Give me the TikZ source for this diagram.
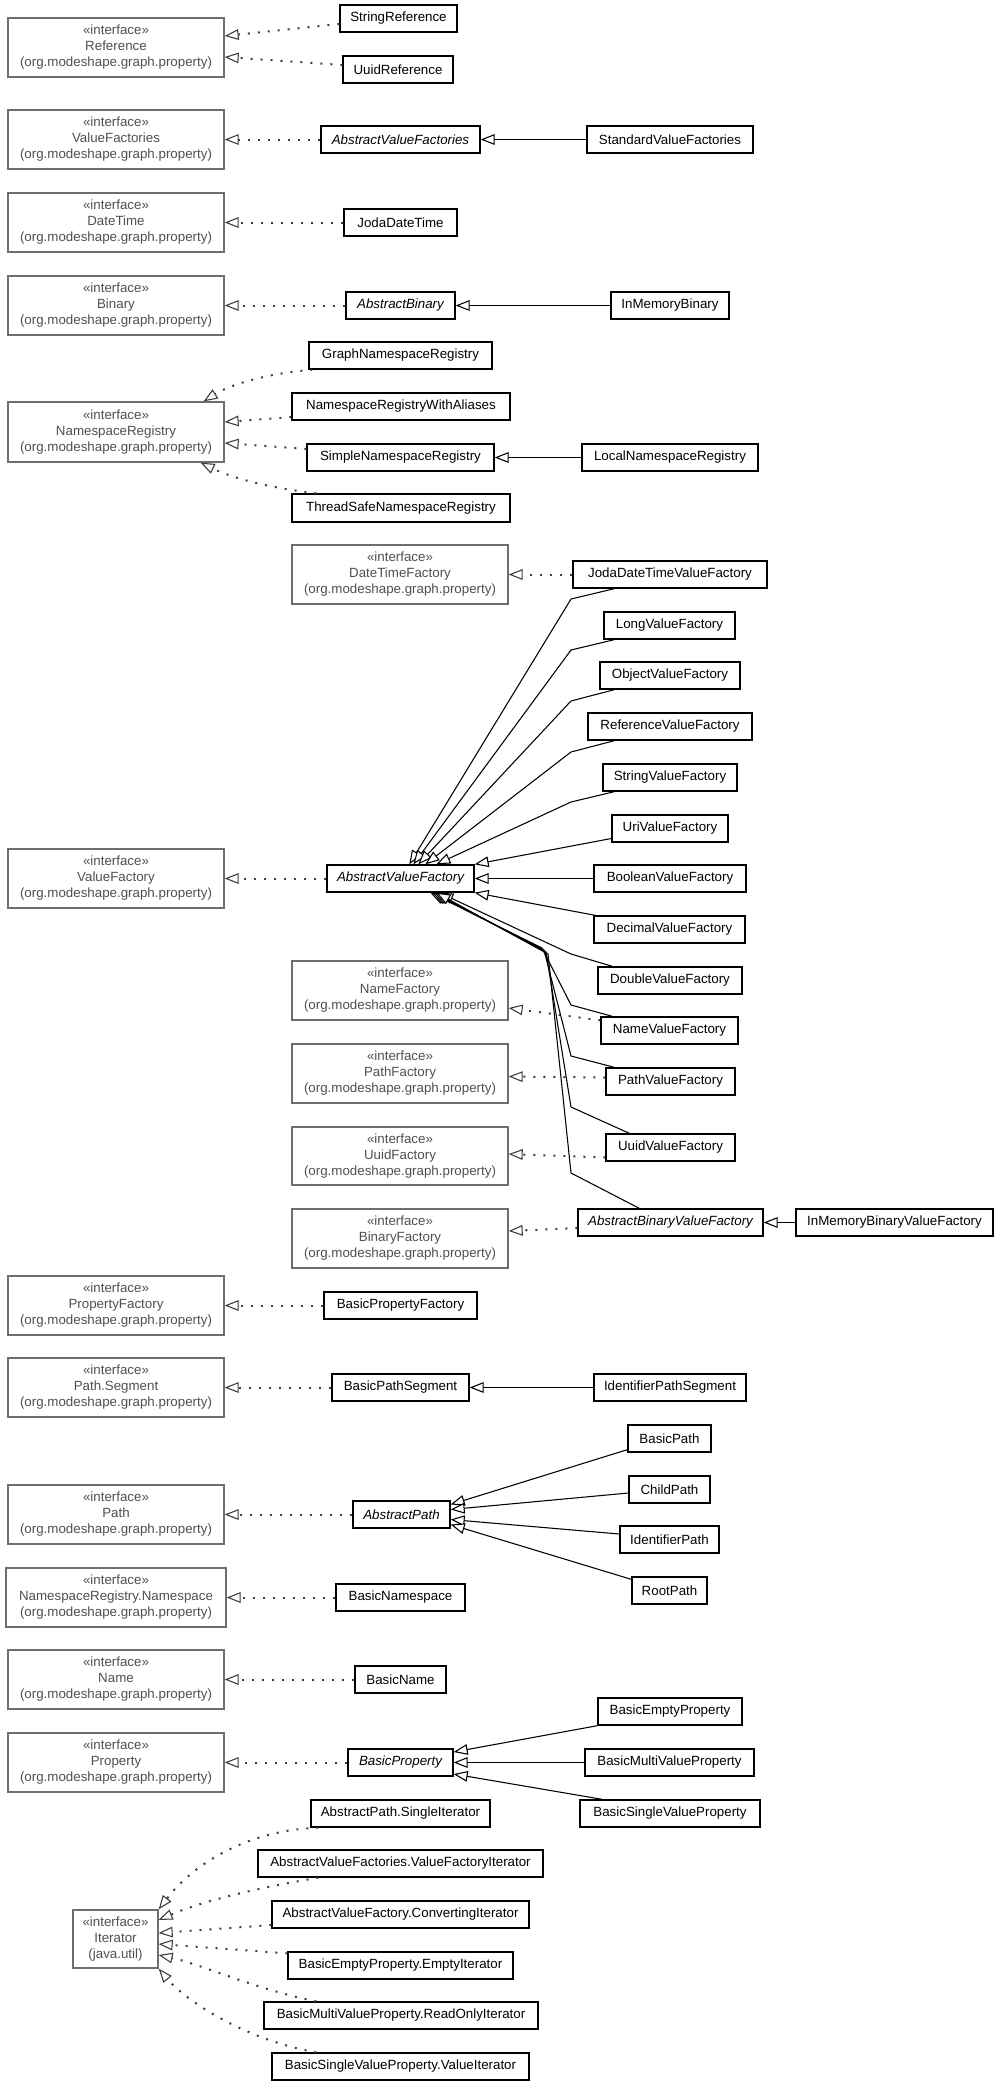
\documentclass[tikz,border=0pt]{standalone}
\usepackage{fontspec}
\setmainfont{Liberation Sans}
\usetikzlibrary{arrows.meta,calc}
\definecolor{ifcline}{RGB}{110,110,110}
\definecolor{ifctext}{RGB}{80,80,80}
\definecolor{dotline}{RGB}{60,60,60}
% #1 style, #2 name, #3 x1, #4 y1, #5 x2, #6 y2, #7 text  (pixel coordinates, y downwards)
\newcommand\ubox[7][]{%
  \node[#1, minimum width={(#5-#3)*0.75pt}, minimum height={(#6-#4)*0.75pt}] (#2) at ({(#3+#5)/2},{(#4+#6)/2}) {#7};}
\begin{document}
\begin{tikzpicture}[x=0.75pt,y=-0.75pt,
  cls/.style={draw=black, line width=1pt, fill=white, inner sep=0pt, text=black, font=\fontsize{10pt}{12pt}\selectfont},
  abs/.style={cls, font=\fontsize{10pt}{12pt}\selectfont\itshape},
  ifc/.style={draw=ifcline, line width=1pt, fill=white, inner sep=0pt, align=center, text=ifctext, font=\fontsize{10pt}{12pt}\selectfont},
  real/.style={draw=dotline, line width=1.5pt, dash pattern=on 1.5pt off 6pt, -{Triangle[open,length=10.5pt,width=8pt,line width=0.8pt,fill=white]}},
  gen/.style={draw=black, line width=0.8pt, -{Triangle[open,length=10.5pt,width=8pt,line width=0.8pt,fill=white]}}]
\useasboundingbox (0,0) rectangle (995,2085);

% ---------- nodes ----------
\ubox[ifc]{refI}{8}{18}{224}{77}{«interface»\\Reference\\(org.modeshape.graph.property)}
\ubox[cls]{stringRef}{340}{5}{457}{32}{StringReference}
\ubox[cls]{uuidRef}{343}{56}{453}{83}{UuidReference}
\ubox[ifc]{vfsI}{8}{110}{224}{169}{«interface»\\ValueFactories\\(org.modeshape.graph.property)}
\ubox[abs]{avfs}{321}{126}{480}{153}{AbstractValueFactories}
\ubox[cls]{svfs}{587}{126}{753}{153}{StandardValueFactories}
\ubox[ifc]{dtI}{8}{193}{224}{252}{«interface»\\DateTime\\(org.modeshape.graph.property)}
\ubox[cls]{jodaDT}{344}{209}{457}{236}{JodaDateTime}
\ubox[ifc]{binI}{8}{276}{224}{335}{«interface»\\Binary\\(org.modeshape.graph.property)}
\ubox[abs]{absBin}{346}{292}{455}{319}{AbstractBinary}
\ubox[cls]{inMemBin}{611}{292}{729}{319}{InMemoryBinary}
\ubox[cls]{graphNS}{309}{342}{492}{369}{GraphNamespaceRegistry}
\ubox[ifc]{nsrI}{8}{402}{224}{462}{«interface»\\NamespaceRegistry\\(org.modeshape.graph.property)}
\ubox[cls]{nsrwa}{292}{393}{510}{420}{NamespaceRegistryWithAliases}
\ubox[cls]{simpleNS}{307}{444}{494}{471}{SimpleNamespaceRegistry}
\ubox[cls]{localNS}{582}{444}{758}{471}{LocalNamespaceRegistry}
\ubox[cls]{threadNS}{292}{494}{510}{522}{ThreadSafeNamespaceRegistry}
\ubox[ifc]{dtfI}{292}{545}{508}{604}{«interface»\\DateTimeFactory\\(org.modeshape.graph.property)}
\ubox[cls]{jodaVF}{573}{561}{767}{588}{JodaDateTimeValueFactory}
\ubox[cls]{longVF}{604}{612}{735}{639}{LongValueFactory}
\ubox[cls]{objVF}{600}{662}{740}{689}{ObjectValueFactory}
\ubox[cls]{refVF}{588}{713}{752}{740}{ReferenceValueFactory}
\ubox[cls]{strVF}{603}{764}{737}{791}{StringValueFactory}
\ubox[cls]{uriVF}{612}{815}{728}{842}{UriValueFactory}
\ubox[ifc]{vfI}{8}{849}{224}{908}{«interface»\\ValueFactory\\(org.modeshape.graph.property)}
\ubox[abs]{avf}{327}{865}{474}{892}{AbstractValueFactory}
\ubox[cls]{boolVF}{594}{865}{746}{892}{BooleanValueFactory}
\ubox[cls]{decVF}{594}{916}{745}{943}{DecimalValueFactory}
\ubox[cls]{dblVF}{598}{967}{742}{994}{DoubleValueFactory}
\ubox[ifc]{nfI}{292}{961}{508}{1020}{«interface»\\NameFactory\\(org.modeshape.graph.property)}
\ubox[cls]{nameVF}{601}{1017}{738}{1044}{NameValueFactory}
\ubox[ifc]{pfI}{292}{1044}{508}{1103}{«interface»\\PathFactory\\(org.modeshape.graph.property)}
\ubox[cls]{pathVF}{606}{1068}{735}{1095}{PathValueFactory}
\ubox[ifc]{ufI}{292}{1127}{508}{1185}{«interface»\\UuidFactory\\(org.modeshape.graph.property)}
\ubox[cls]{uuidVF}{606}{1134}{735}{1161}{UuidValueFactory}
\ubox[ifc]{bfI}{292}{1209}{508}{1268}{«interface»\\BinaryFactory\\(org.modeshape.graph.property)}
\ubox[abs]{absBinVF}{578}{1209}{763}{1236}{AbstractBinaryValueFactory}
\ubox[cls]{inMemBinVF}{796}{1209}{993}{1236}{InMemoryBinaryValueFactory}
\ubox[ifc]{propfI}{8}{1276}{224}{1335}{«interface»\\PropertyFactory\\(org.modeshape.graph.property)}
\ubox[cls]{basicPropF}{324}{1292}{477}{1319}{BasicPropertyFactory}
\ubox[ifc]{psegI}{8}{1358}{224}{1417}{«interface»\\Path.Segment\\(org.modeshape.graph.property)}
\ubox[cls]{basicPathSeg}{332}{1374}{469}{1401}{BasicPathSegment}
\ubox[cls]{idPathSeg}{594}{1374}{746}{1401}{IdentifierPathSegment}
\ubox[cls]{basicPath}{628}{1425}{711}{1452}{BasicPath}
\ubox[ifc]{pathI}{8}{1485}{224}{1544}{«interface»\\Path\\(org.modeshape.graph.property)}
\ubox[cls]{childPath}{629}{1476}{710}{1503}{ChildPath}
\ubox[abs]{absPath}{353}{1501}{450}{1528}{AbstractPath}
\ubox[cls]{idPath}{620}{1526}{719}{1553}{IdentifierPath}
\ubox[cls]{rootPath}{632}{1577}{707}{1604}{RootPath}
\ubox[ifc]{nsI}{6}{1568}{226}{1627}{«interface»\\NamespaceRegistry.Namespace\\(org.modeshape.graph.property)}
\ubox[cls]{basicNS}{336}{1584}{465}{1611}{BasicNamespace}
\ubox[ifc]{nameI}{8}{1650}{224}{1709}{«interface»\\Name\\(org.modeshape.graph.property)}
\ubox[cls]{basicName}{355}{1666}{446}{1693}{BasicName}
\ubox[cls]{basicEmptyProp}{598}{1698}{742}{1725}{BasicEmptyProperty}
\ubox[ifc]{propI}{8}{1733}{224}{1792}{«interface»\\Property\\(org.modeshape.graph.property)}
\ubox[abs]{basicProp}{348}{1749}{453}{1776}{BasicProperty}
\ubox[cls]{basicMultiProp}{585}{1749}{754}{1776}{BasicMultiValueProperty}
\ubox[cls]{basicSingleProp}{580}{1800}{760}{1827}{BasicSingleValueProperty}
\ubox[cls]{apSingleIt}{311}{1800}{490}{1827}{AbstractPath.SingleIterator}
\ubox[cls]{avfsIt}{258}{1850}{543}{1877}{AbstractValueFactories.ValueFactoryIterator}
\ubox[cls]{avfConvIt}{272}{1901}{529}{1928}{AbstractValueFactory.ConvertingIterator}
\ubox[ifc]{iterI}{73}{1910}{158}{1968}{«interface»\\Iterator\\(java.util)}
\ubox[cls]{bepEmptyIt}{288}{1952}{513}{1979}{BasicEmptyProperty.EmptyIterator}
\ubox[cls]{bmvpRoIt}{264}{2002}{538}{2029}{BasicMultiValueProperty.ReadOnlyIterator}
\ubox[cls]{bsvpValIt}{272}{2053}{529}{2080}{BasicSingleValueProperty.ValueIterator}

% ---------- realizations (dotted) ----------
\draw[real] ($(stringRef.west)+(0,5.5)$) -- ($(refI.east)+(0,-11.5)$);
\draw[real] ($(uuidRef.west)+(0,-4.5)$) -- ($(refI.east)+(0,9.5)$);
\draw[real] (avfs.west) -- (avfs.west -| vfsI.east);
\draw[real] (jodaDT.west) -- (jodaDT.west -| dtI.east);
\draw[real] (absBin.west) -- (absBin.west -| binI.east);
\draw[real] ($(graphNS.south west)+(4,0)$) .. controls (262,374) and (228,386) .. ($(nsrI.north east)+(-21,0)$);
\draw[real] ($(nsrwa.west)+(0,10.5)$) -- ($(nsrI.east)+(0,-10)$);
\draw[real] ($(simpleNS.west)+(0,-8.5)$) -- ($(nsrI.east)+(0,11)$);
\draw[real] ($(threadNS.north west)+(25,0)$) .. controls (262,487) and (228,476) .. ($(nsrI.south east)+(-24,0)$);
\draw[real] (jodaVF.west) -- (jodaVF.west -| dtfI.east);
\draw[real] (avf.west) -- (avf.west -| vfI.east);
\draw[real] ($(nameVF.north west)+(0,4)$) -- ($(nfI.east)+(0,17.5)$);
\draw[real] ($(pathVF.west)+(0,-4)$) -- ($(pfI.east)+(0,3)$);
\draw[real] ($(uuidVF.west)+(0,10)$) -- ($(ufI.east)+(0,-2)$);
\draw[real] ($(absBinVF.west)+(0,5.5)$) -- ($(bfI.east)+(0,-7.5)$);
\draw[real] (basicPropF.west) -- (basicPropF.west -| propfI.east);
\draw[real] (basicPathSeg.west) -- (basicPathSeg.west -| psegI.east);
\draw[real] (absPath.west) -- (absPath.west -| pathI.east);
\draw[real] (basicNS.west) -- (basicNS.west -| nsI.east);
\draw[real] (basicName.west) -- (basicName.west -| nameI.east);
\draw[real] (basicProp.west) -- (basicProp.west -| propI.east);
% iterators
\draw[real] ($(apSingleIt.south west)+(8,0)$) .. controls (250,1830) and (195,1862) .. (iterI.north east);
\draw[real] ($(avfsIt.south west)+(61,0)$) .. controls (258,1888) and (205,1900) .. ($(iterI.east)+(0,-19)$);
\draw[real] ($(avfConvIt.west)+(0,10.5)$) -- ($(iterI.east)+(0,-6)$);
\draw[real] ($(bepEmptyIt.north west)+(0,2)$) -- ($(iterI.east)+(0,5)$);
\draw[real] ($(bmvpRoIt.north west)+(53,0)$) .. controls (258,1990) and (200,1964) .. ($(iterI.east)+(0,16)$);
\draw[real] ($(bsvpValIt.north west)+(45,0)$) .. controls (245,2040) and (185,2000) .. (iterI.south east);

% ---------- generalizations (solid) ----------
\draw[gen] (svfs.west) -- (avfs.east);
\draw[gen] (inMemBin.west) -- (absBin.east);
\draw[gen] (localNS.west) -- (simpleNS.east);
\draw[gen] (inMemBinVF.west) -- (absBinVF.east);
\draw[gen] (idPathSeg.west) -- (basicPathSeg.east);
% AbstractValueFactory fan
\draw[gen] ($(jodaVF.south west)+(42,0)$) -- (571,599) -- ($(avf.north west)+(83,0)$);
\draw[gen] ($(longVF.south west)+(11,0)$) -- (571,650) -- ($(avf.north west)+(87,0)$);
\draw[gen] ($(objVF.south west)+(15,0)$) -- (571,701) -- ($(avf.north west)+(92,0)$);
\draw[gen] ($(refVF.south west)+(27,0)$) -- (571,752) -- ($(avf.north west)+(99,0)$);
\draw[gen] ($(strVF.south west)+(12,0)$) -- (571,802) -- ($(avf.north west)+(110,0)$);
\draw[gen] ($(uriVF.west)+(0,10)$) -- (avf.north east);
\draw[gen] (boolVF.west) -- (avf.east);
\draw[gen] ($(decVF.north west)+(2,0)$) -- (avf.south east);
\draw[gen] ($(dblVF.north west)+(15,0)$) -- (571,954) -- ($(avf.south west)+(113,0)$);
\draw[gen] ($(nameVF.north west)+(12,0)$) -- (571,1005) -- (542,948) -- ($(avf.south west)+(104,0)$);
\draw[gen] ($(pathVF.north west)+(9,0)$) -- (571,1056) -- (544,950) -- ($(avf.south west)+(106,0)$);
\draw[gen] ($(uuidVF.north west)+(24,0)$) -- (571,1107) -- (546,952) -- ($(avf.south west)+(108,0)$);
\draw[gen] ($(absBinVF.north west)+(62,0)$) -- (571,1173) -- (548,954) -- ($(avf.south west)+(110,0)$);
% AbstractPath fan
\draw[gen] ($(basicPath.south west)+(0,-3)$) -- ($(absPath.east)+(0,-10)$);
\draw[gen] ($(childPath.west)+(0,3.5)$) -- ($(absPath.east)+(0,-5)$);
\draw[gen] ($(idPath.west)+(0,-5.5)$) -- ($(absPath.east)+(0,5)$);
\draw[gen] ($(rootPath.north west)+(0,3)$) -- ($(absPath.east)+(0,10)$);
% BasicProperty fan
\draw[gen] (basicEmptyProp.south west) -- ($(basicProp.east)+(0,-10.5)$);
\draw[gen] (basicMultiProp.west) -- (basicProp.east);
\draw[gen] ($(basicSingleProp.north west)+(23,0)$) -- ($(basicProp.east)+(0,11.5)$);
\end{tikzpicture}
\end{document}
